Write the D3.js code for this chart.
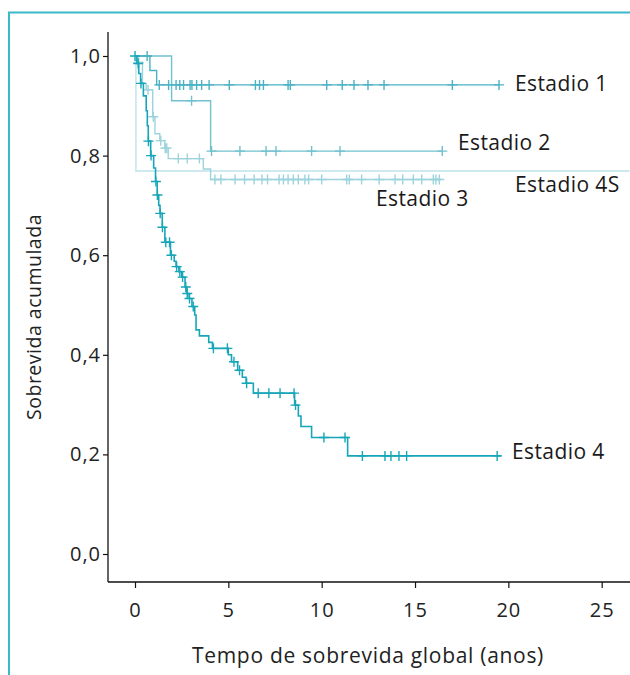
<!DOCTYPE html>
<html>
<head>
<meta charset="utf-8">
<script src="https://cdn.jsdelivr.net/npm/d3@7"></script>
<style>
  body { margin: 0; background: #fff; }
  svg { display: block; font-family: "Open Sans", "Noto Sans", sans-serif; }
</style>
</head>
<body>
<svg width="630" height="675"></svg>
<script>
// Kaplan-Meier steps: [time (anos), survival after the event]
var e1Steps = [[0, 1], [0.8, 0.971], [1.16, 0.942]];
var e1End = 19.5;
var e1Censor = [0.65, 1.3, 1.8, 2.2, 2.4, 2.6, 2.95, 3.05, 3.3, 3.57, 3.97, 5.05, 6.45, 6.67, 6.88,
                8.2, 8.32, 10.27, 11.1, 11.73, 12.48, 13.34, 17.0, 19.5];

var e2Steps = [[0, 1], [1.96, 0.91], [4.05, 0.809]];
var e2End = 16.5;
var e2Censor = [3.03, 4.1, 5.62, 7.02, 7.55, 9.46, 10.98, 16.46];

var e3Steps = [[0, 1], [0.15, 0.987], [0.4, 0.945], [0.6, 0.932], [0.95, 0.878], [1.07, 0.844],
               [1.33, 0.83], [1.6, 0.815], [1.78, 0.794], [3.66, 0.773], [4.05, 0.752]];
var e3End = 16.4;
var e3Censor = [0.2, 0.7, 0.98, 1.38, 1.62, 1.7, 2.32, 2.8, 3.45,
                4.28, 4.6, 5.36, 5.87, 6.38, 6.8, 7.1, 7.72, 7.95, 8.2, 8.48, 8.75, 9.1, 9.3,
                10.0, 11.34, 11.48, 12.14, 13.08, 13.93, 14.34, 14.91, 15.36, 15.98, 16.12, 16.3];

var e4sSteps = [[0, 1], [0.05, 0.769]];
var e4sEnd = 26.5;
var e4sCensor = [];

var e4Steps = [[0, 1], [0.1, 0.985], [0.2, 0.965], [0.3, 0.945], [0.45, 0.92], [0.6, 0.89],
               [0.66, 0.86], [0.71, 0.829], [0.84, 0.80], [1.0, 0.775], [1.1, 0.748], [1.19, 0.721],
               [1.27, 0.70], [1.34, 0.684], [1.46, 0.656], [1.6, 0.626], [1.9, 0.60], [2.1, 0.588],
               [2.2, 0.577], [2.35, 0.567], [2.5, 0.556], [2.68, 0.536], [2.78, 0.523], [2.9, 0.513],
               [3.05, 0.497], [3.2, 0.48], [3.27, 0.45], [3.45, 0.438], [3.95, 0.425], [4.15, 0.413],
               [5.0, 0.40], [5.17, 0.386], [5.5, 0.369], [5.75, 0.355], [5.95, 0.343], [6.34, 0.323],
               [8.55, 0.299], [8.75, 0.277], [8.89, 0.256], [9.46, 0.234], [11.39, 0.197]];
var e4End = 19.6;
var e4Censor = [0, 0.17, 0.32, 0.72, 0.86, 1.12, 1.2, 1.35, 1.47, 1.65, 1.85, 1.95, 2.23, 2.4, 2.55,
                2.72, 2.8, 2.92, 3.12, 4.2, 4.95, 5.3, 5.6, 5.98, 6.6, 7.17, 7.77, 8.52, 8.6,
                10.12, 11.25, 12.18, 13.39, 13.71, 14.14, 14.55, 19.4];

var groupNames = ["Estadio 4S", "Estadio 3", "Estadio 2", "Estadio 1", "Estadio 4"];
var groupColors = ["#c0e3e9", "#9dd3dc", "#72c1ce", "#4cb3c4", "#17a6b8"];
var xTicks = [0, 5, 10, 15, 20, 25];
var yTicks = [0, 0.2, 0.4, 0.6, 0.8, 1.0];

var groups = [
  {name: groupNames[0], steps: e4sSteps, end: e4sEnd, censor: e4sCensor, color: groupColors[0], lab: [515, 185]},
  {name: groupNames[1], steps: e3Steps, end: e3End, censor: e3Censor, color: groupColors[1], lab: [376, 199]},
  {name: groupNames[2], steps: e2Steps, end: e2End, censor: e2Censor, color: groupColors[2], lab: [458, 143]},
  {name: groupNames[3], steps: e1Steps, end: e1End, censor: e1Censor, color: groupColors[3], lab: [515, 84]},
  {name: groupNames[4], steps: e4Steps, end: e4End, censor: e4Censor, color: groupColors[4], lab: [512, 452]}
];

var svg = d3.select("svg");

var x = d3.scaleLinear().domain([0, 25]).range([135, 601.7]);
var y = d3.scaleLinear().domain([0, 1]).range([554, 56]);

// frame
svg.append("path")
  .attr("d", "M9,675V12.5H630")
  .attr("fill", "none")
  .attr("stroke", "#3db8c9")
  .attr("stroke-width", 2);

// axes
var xAxis = svg.append("g")
  .attr("transform", "translate(0,582)")
  .call(d3.axisBottom(x).tickValues(xTicks).tickSize(6).tickSizeOuter(0).tickFormat(d3.format("d")));
xAxis.select(".domain").remove();
svg.append("line").attr("x1", 108).attr("x2", 630).attr("y1", 582).attr("y2", 582)
  .attr("stroke", "#111").attr("stroke-width", 1.3);

var yAxis = svg.append("g")
  .attr("transform", "translate(108,0)")
  .call(d3.axisLeft(y).tickValues(yTicks).tickSize(5).tickSizeOuter(0)
    .tickFormat(d => d3.format(".1f")(d).replace(".", ",")));
yAxis.select(".domain").remove();
svg.append("line").attr("x1", 108).attr("x2", 108).attr("y1", 32).attr("y2", 582)
  .attr("stroke", "#111").attr("stroke-width", 1.3);

svg.selectAll(".tick line").attr("stroke", "#111").attr("stroke-width", 1.2);
svg.selectAll(".tick text").attr("fill", "#222")
  .style("font-size", "20px").style("letter-spacing", "1px").style("font-family", "Open Sans");
xAxis.selectAll(".tick text").attr("y", 35).attr("dy", 0);
yAxis.selectAll(".tick text").attr("x", -7);

svg.append("text")
  .attr("x", 368).attr("y", 663)
  .attr("text-anchor", "middle")
  .attr("fill", "#222")
  .style("font-size", "21px")
  .style("letter-spacing", "0.7px")
  .text("Tempo de sobrevida global (anos)");

svg.append("text")
  .attr("transform", "translate(41,317) rotate(-90)")
  .attr("text-anchor", "middle")
  .attr("fill", "#222")
  .style("font-size", "19.5px")
  .style("letter-spacing", "0.5px")
  .text("Sobrevida acumulada");

// curves
function survAt(steps, t) {
  var s = steps[0][1];
  steps.forEach(p => { if (p[0] <= t) s = p[1]; });
  return s;
}

var line = d3.line()
  .x(d => x(d[0]))
  .y(d => y(d[1]))
  .curve(d3.curveStepAfter);

groups.forEach(g => {
  var pts = g.steps.concat([[g.end, g.steps[g.steps.length - 1][1]]]);
  svg.append("path")
    .datum(pts)
    .attr("d", line)
    .attr("fill", "none")
    .attr("stroke", g.color)
    .attr("stroke-width", g.name == "Estadio 4" ? 1.6 : 1.4);

  svg.append("g").selectAll("path")
    .data(g.censor)
    .enter()
    .append("path")
    .attr("d", d => {
      var cx = x(d), cy = y(survAt(g.steps, d));
      return "M" + (cx - 5) + "," + cy + "H" + (cx + 5) + "M" + cx + "," + (cy - 5) + "V" + (cy + 5);
    })
    .attr("stroke", g.color)
    .attr("stroke-width", 1.4);

  svg.append("text")
    .attr("x", g.lab[0]).attr("y", g.lab[1])
    .attr("dy", "0.35em")
    .attr("fill", "#1a1a1a")
    .style("font-size", "21px")
    .style("letter-spacing", "0.4px")
    .text(g.name);
});
</script>
</body>
</html>
